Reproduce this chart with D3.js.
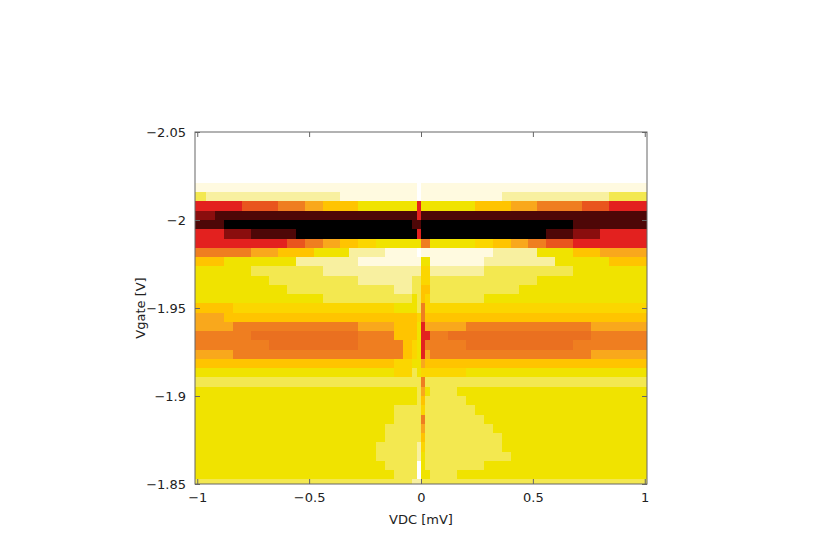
<!DOCTYPE html>
<html><head><meta charset="utf-8">
<script src="https://cdn.jsdelivr.net/npm/d3@7"></script>
<style>body{margin:0;background:#fff}svg{font-family:"DejaVu Sans",sans-serif}</style>
</head><body><svg id="c" width="840" height="550"></svg>
<script>
// Vgate row centres [V]
const vgate=[-2.05,-2.0447,-2.0395,-2.0342,-2.0289,-2.0237,-2.0184,-2.0132,-2.0079,-2.0026,-1.9974,-1.9921,-1.9868,-1.9816,-1.9763,-1.9711,-1.9658,-1.9605,-1.9553,-1.95,-1.9447,-1.9395,-1.9342,-1.9289,-1.9237,-1.9184,-1.9132,-1.9079,-1.9026,-1.8974,-1.8921,-1.8868,-1.8816,-1.8763,-1.8711,-1.8658,-1.8605,-1.8553,-1.85];
// VDC column edges [mV]
const vdcEdges=[-1.01,-0.96,-0.92,-0.88,-0.84,-0.80,-0.76,-0.72,-0.68,-0.64,-0.60,-0.56,-0.52,-0.48,-0.44,-0.40,-0.36,-0.32,-0.28,-0.24,-0.20,-0.16,-0.12,-0.08,-0.04,-0.02,0,0.02,0.04,0.08,0.12,0.16,0.20,0.24,0.28,0.32,0.36,0.40,0.44,0.48,0.52,0.56,0.60,0.64,0.68,0.72,0.76,0.80,0.84,0.88,0.92,0.96,1.01];
// colour level keys (light -> dark)
const levelKeys=["0","1","2","a","3","g","4","5","6","o","r","7","d","8","9"];
const levelColors=["#ffffff","#fffae0","#f8f0a0","#f3e850","#f0e300","#fbd600","#ffc400","#f9a81c","#ef7e20","#ea7020","#e9551e","#e3211f","#8a0e0e","#4e0707","#000000"];
// rows (run-length: level:count), left 24 | centre 4 | right 24
const rows=[
"0:52","0:52","0:52","0:52","0:52","0:52",
"1:24|1:1 0:1 1:2|1:24",
"a:1 2:15 1:8|1:1 0:1 1:2|1:8 2:12 a:4",
"7:5 r:4 6:3 5:2 4:4 3:6|3:1 7:1 3:2|3:5 4:4 5:3 6:5 r:3 7:4",
"d:2 8:22|8:1 7:1 8:2|8:24",
"8:3 9:21|8:2 9:2|9:16 8:8",
"7:3 d:3 8:5 9:13|9:1 7:1 9:2|9:13 8:3 d:3 7:5",
"7:10 r:2 6:2 5:2 4:2 g:2 3:4|3:2 6:2|3:5 g:2 4:2 5:2 6:2 r:3 7:8",
"6:6 5:3 4:4 3:4 2:4 1:3|1:1 0:1 1:2|1:7 2:5 3:4 4:3 5:5",
"4:3 3:8 2:7 1:6|1:2 3:2|1:6 2:8 3:6 4:4",
"3:6 a:8 2:10|2:2 g:2|2:6 a:10 3:8",
"3:8 a:10 2:6|a:2 g:2|a:12 3:12",
"3:10 a:12 2:2|a:2 4:2|a:10 3:14",
"3:14 a:10|3:1 a:1 4:1 g:1|a:6 3:18",
"4:4 g:18 3:2|3:1 a:1 6:1 g:1|g:24",
"5:3 4:21|4:1 g:1 6:1 4:1|4:24",
"5:4 6:14 5:4 4:2|4:1 3:1 7:1 5:1|5:4 6:14 5:6",
"6:6 o:12 6:4 4:2|4:1 3:1 7:2|6:2 o:16 6:6",
"6:8 o:10 6:5 4:1|g:1 3:1 7:1 6:1|6:4 o:12 6:8",
"5:4 6:19 4:1|g:1 3:1 7:1 5:1|6:18 5:6",
"4:22 g:2|3:2 5:1 4:1|4:24",
"3:22 g:2|a:1 3:1 g:2|g:4 3:20",
"a:24|a:2 6:1 a:1|a:24",
"3:24|3:1 a:1 5:1 3:1|a:3 3:21",
"3:24|3:1 a:1 4:1 a:1|a:4 3:20",
"3:22 a:2|a:2 g:1 a:1|a:5 3:19",
"3:22 a:2|a:2 6:1 a:1|a:6 3:18",
"3:21 a:3|a:2 5:1 a:1|a:7 3:17",
"3:21 a:3|a:2 4:1 a:1|a:8 3:16",
"3:20 a:4|a:1 2:1 g:1 a:1|a:8 3:16",
"3:20 a:4|a:1 2:1 3:1 a:1|a:9 3:15",
"3:21 a:3|a:1 0:1 3:1 a:1|a:6 3:18",
"3:22 a:2|a:1 0:1 3:2|a:3 3:21",
"a:24|2:2 a:2|a:24"];
const xTicks=[-1,-0.5,0,0.5,1];
const yTicks=[-2.05,-2,-1.95,-1.9,-1.85];

const decode=s=>s.replace(/\|/g," ").trim().split(/\s+/).flatMap(t=>{const [k,n]=t.split(":");return Array(+n).fill(k);});
const svg=d3.select("#c");
const L=195,R=647,T=132,B=484;
const x=d3.scaleLinear().domain([-1.01,1.01]).range([L,R]);
const y=d3.scaleLinear().domain([-2.05,-1.85]).range([T,B]);
const color=d3.scaleOrdinal().domain(levelKeys).range(levelColors);
const cells=[];
rows.forEach((r,i)=>{
  const y0=i===0?-2.05:(vgate[i-1]+vgate[i])/2;
  const y1=i===vgate.length-1?-1.85:(vgate[i]+vgate[i+1])/2;
  decode(r).forEach((k,j)=>cells.push({x0:vdcEdges[j],x1:vdcEdges[j+1],y0,y1,k}));
});
svg.append("g").selectAll("rect").data(cells).join("rect")
 .attr("x",d=>x(d.x0)).attr("width",d=>x(d.x1)-x(d.x0)+0.4)
 .attr("y",d=>y(d.y0)).attr("height",d=>y(d.y1)-y(d.y0)+0.4)
 .attr("fill",d=>color(d.k)).attr("shape-rendering","crispEdges");
svg.append("rect").attr("x",L).attr("y",T).attr("width",R-L).attr("height",B-T)
 .attr("fill","none").attr("stroke","#666").attr("stroke-width",1);
const fmt=d=>d3.format("")(d).replace("-","\u2212");
const ax=g=>g.selectAll(".domain").remove();
svg.append("g").attr("transform",`translate(0,${B})`).call(d3.axisBottom(x).tickValues(xTicks).tickSize(-5).tickPadding(9).tickFormat(fmt)).call(ax);
svg.append("g").attr("transform",`translate(0,${T})`).call(d3.axisTop(x).tickValues(xTicks).tickSize(-5).tickFormat("")).call(ax);
svg.append("g").attr("transform",`translate(${L},0)`).call(d3.axisLeft(y).tickValues(yTicks).tickSize(-5).tickPadding(9).tickFormat(fmt)).call(ax);
svg.append("g").attr("transform",`translate(${R},0)`).call(d3.axisRight(y).tickValues(yTicks).tickSize(-5).tickFormat("")).call(ax);
svg.selectAll(".tick line").attr("stroke","#666");
svg.selectAll(".tick text").attr("font-size",13).attr("fill","#222").attr("font-family","DejaVu Sans, sans-serif");
svg.append("text").attr("x",(L+R)/2).attr("y",524).attr("text-anchor","middle").attr("font-size",13).attr("fill","#222").text("VDC [mV]");
svg.append("text").attr("transform",`translate(145,${(T+B)/2}) rotate(-90)`).attr("text-anchor","middle").attr("font-size",13).attr("fill","#222").text("Vgate [V]");
</script></body></html>
